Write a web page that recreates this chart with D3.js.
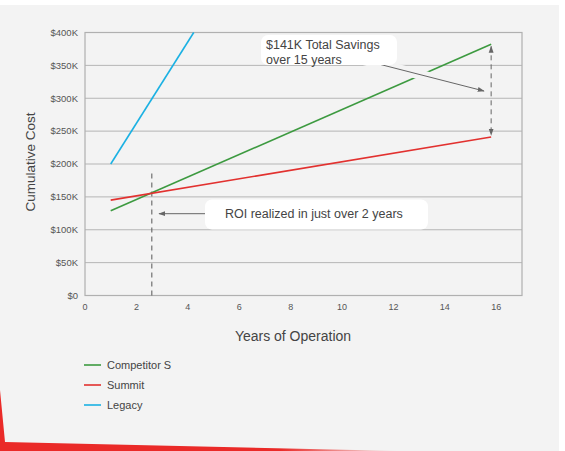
<!DOCTYPE html>
<html lang="en">
<head>
<meta charset="UTF-8">
<title>Cumulative Cost</title>
<script src="https://d3js.org/d3.v7.min.js"></script>
<style>
  body { margin: 0; background: #fff; }
  text { font-family: "Liberation Sans", Arial, Helvetica, sans-serif; }
</style>
</head>
<body>
<svg id="chart" width="565" height="451"></svg>
<script>
// data
var years = [1, 15.8];
var competitorS = [129000, 382000];
var summit = [145000, 241000];
var legacyYears = [1, 4.23];
var legacy = [200000, 400000];
var xTicks = [0, 2, 4, 6, 8, 10, 12, 14, 16];
var yTicks = [0, 50000, 100000, 150000, 200000, 250000, 300000, 350000, 400000];
var roiYear = 2.6;

var series = [
  { name: "Competitor S", color: "#3d9a40", xs: years, ys: competitorS },
  { name: "Summit", color: "#e2312f", xs: years, ys: summit },
  { name: "Legacy", color: "#1bb1e3", xs: legacyYears, ys: legacy }
];

var svg = d3.select("#chart");

// background panel
svg.append("rect").attr("x", 0).attr("y", 5).attr("width", 559).attr("height", 446).attr("fill", "#f3f3f3");

// red corner decoration
var defs = svg.append("defs");
var grad = defs.append("linearGradient").attr("id", "redfade").attr("x1", "0%").attr("x2", "100%");
grad.append("stop").attr("offset", "0%").attr("stop-color", "#ea2a28");
grad.append("stop").attr("offset", "70%").attr("stop-color", "#ea2a28");
grad.append("stop").attr("offset", "100%").attr("stop-color", "#ea2a28").attr("stop-opacity", 0);
svg.append("path")
  .attr("d", "M0,390 L5,442 L400,451 L0,451 Z")
  .attr("fill", "url(#redfade)");

defs.append("marker").attr("id", "arr").attr("viewBox", "0 0 10 10")
  .attr("refX", 9).attr("refY", 5).attr("markerWidth", 7).attr("markerHeight", 7)
  .attr("orient", "auto-start-reverse")
  .append("path").attr("d", "M0,1.5 L10,5 L0,8.5 Z").attr("fill", "#666");

var x = d3.scaleLinear().domain([0, 17]).range([85, 522]);
var y = d3.scaleLinear().domain([0, 400000]).range([295.5, 32.5]);

// gridlines
svg.append("g").selectAll("line").data(yTicks).enter().append("line")
  .attr("x1", x(0)).attr("x2", x(17))
  .attr("y1", function(d) { return y(d); }).attr("y2", function(d) { return y(d); })
  .attr("stroke", "#b5b5b5").attr("stroke-width", 1);

// frame
svg.append("rect").attr("x", x(0)).attr("y", y(400000)).attr("width", x(17) - x(0)).attr("height", y(0) - y(400000))
  .attr("fill", "none").attr("stroke", "#b0b0b0").attr("stroke-width", 1.2);

// y axis labels
svg.append("g").selectAll("text").data(yTicks).enter().append("text")
  .attr("x", 78).attr("y", function(d) { return y(d); }).attr("dy", "0.35em")
  .attr("text-anchor", "end").attr("font-size", 9.5).attr("fill", "#555")
  .text(function(d) { return "$" + (d / 1000) + (d ? "K" : ""); });

// x axis labels
svg.append("g").selectAll("text").data(xTicks).enter().append("text")
  .attr("x", function(d) { return x(d); }).attr("y", 307).attr("dy", "0.35em")
  .attr("text-anchor", "middle").attr("font-size", 9).attr("fill", "#555")
  .text(function(d) { return d; });

svg.append("text").attr("x", 293).attr("y", 336).attr("dy", "0.35em")
  .attr("text-anchor", "middle").attr("font-size", 14).attr("fill", "#444")
  .text("Years of Operation");

svg.append("text").attr("transform", "translate(30,162) rotate(-90)").attr("dy", "0.35em")
  .attr("text-anchor", "middle").attr("font-size", 13.5).attr("fill", "#444")
  .text("Cumulative Cost");

// roi dashed line
svg.append("line").attr("x1", x(roiYear)).attr("x2", x(roiYear))
  .attr("y1", y(0)).attr("y2", y(187000))
  .attr("stroke", "#555").attr("stroke-width", 1).attr("stroke-dasharray", "5,4");

// series lines
var line = d3.line().x(function(d) { return x(d[0]); }).y(function(d) { return y(d[1]); });
series.forEach(function(s) {
  svg.append("path")
    .datum(s.xs.map(function(v, i) { return [v, s.ys[i]]; }))
    .attr("d", line).attr("fill", "none")
    .attr("stroke", s.color).attr("stroke-width", 1.6);
});

// savings double arrow
svg.append("line").attr("x1", x(15.8)).attr("x2", x(15.8))
  .attr("y1", y(382000) + 2).attr("y2", y(241000) - 2)
  .attr("stroke", "#666").attr("stroke-width", 1).attr("stroke-dasharray", "5,4")
  .attr("marker-start", "url(#arr)").attr("marker-end", "url(#arr)");

// savings callout arrow (with halo)
svg.append("line").attr("x1", 363).attr("y1", 60).attr("x2", 478).attr("y2", 89.5)
  .attr("stroke", "#f3f3f3").attr("stroke-width", 10);
svg.append("line").attr("x1", 363).attr("y1", 60).attr("x2", 484).attr("y2", 91)
  .attr("stroke", "#666").attr("stroke-width", 1).attr("marker-end", "url(#arr)");

svg.append("rect").attr("x", 261).attr("y", 35).attr("width", 136).attr("height", 30).attr("rx", 7)
  .attr("fill", "#fff");
svg.append("text").attr("x", 266).attr("y", 45).attr("dy", "0.35em")
  .attr("font-size", 12.5).attr("fill", "#444").text("$141K Total Savings");
svg.append("text").attr("x", 266).attr("y", 60).attr("dy", "0.35em")
  .attr("font-size", 12.5).attr("fill", "#444").text("over 15 years");

// roi callout
svg.append("line").attr("x1", 217).attr("y1", 213.7).attr("x2", 159).attr("y2", 213.7)
  .attr("stroke", "#666").attr("stroke-width", 1).attr("marker-end", "url(#arr)");
svg.append("rect").attr("x", 205).attr("y", 199.5).attr("width", 223).attr("height", 30).attr("rx", 7)
  .attr("fill", "#fff");
svg.append("text").attr("x", 225).attr("y", 214).attr("dy", "0.35em")
  .attr("font-size", 12.5).attr("fill", "#444").text("ROI realized in just over 2 years");

// legend
var leg = svg.append("g").selectAll("g").data(series).enter().append("g")
  .attr("transform", function(d, i) { return "translate(84," + (365 + i * 20) + ")"; });
leg.append("line").attr("x1", 0).attr("x2", 17).attr("stroke", function(d) { return d.color; }).attr("stroke-width", 1.6);
leg.append("text").attr("x", 23).attr("dy", "0.35em").attr("font-size", 11).attr("fill", "#444")
  .text(function(d) { return d.name; });
</script>
</body>
</html>
